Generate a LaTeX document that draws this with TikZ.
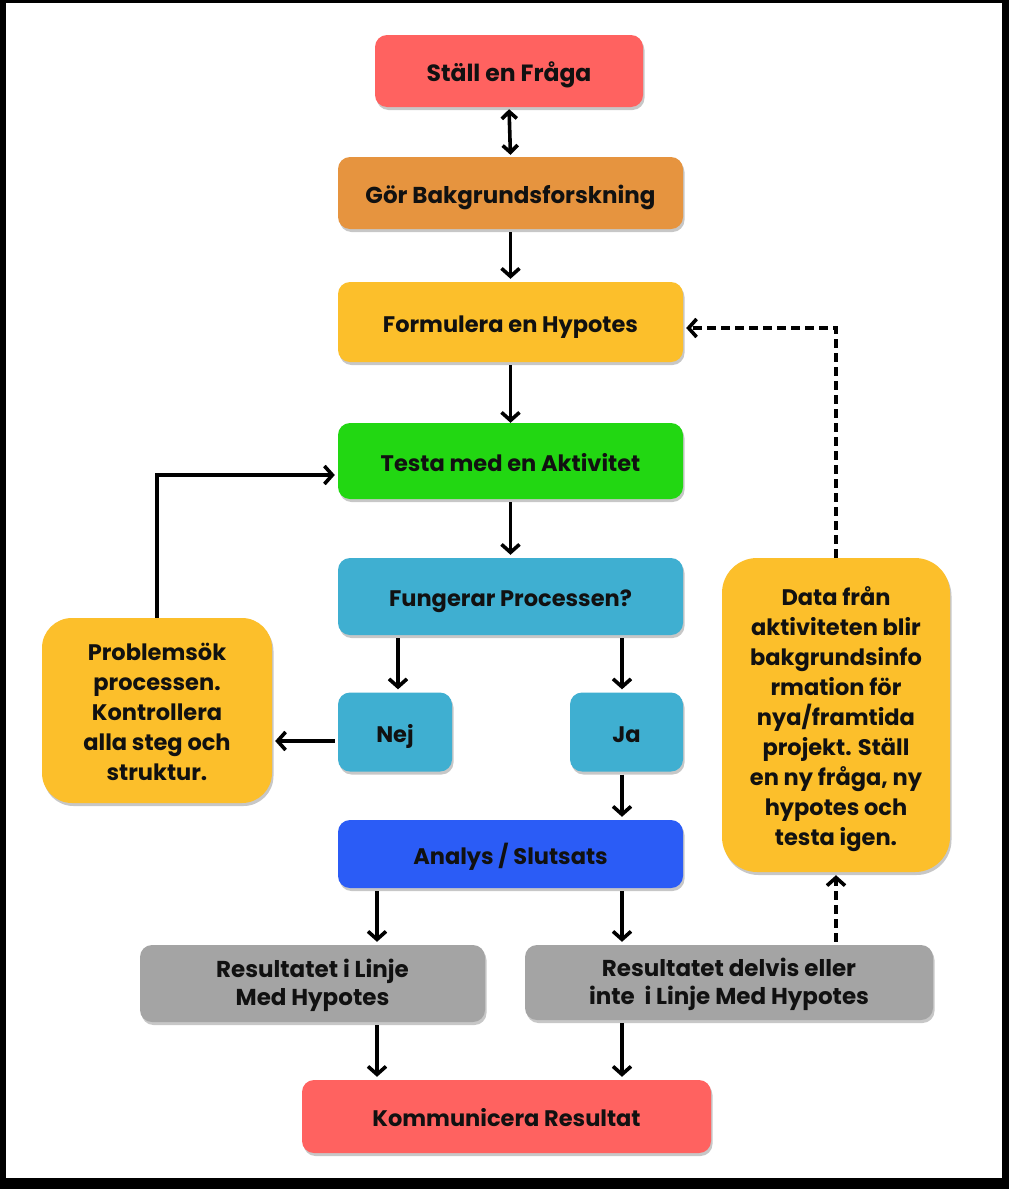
\documentclass[tikz,border=0pt]{standalone}
\usepackage{fontspec}
\setmainfont{Poppins}
\usetikzlibrary{arrows.meta,shadows}
\definecolor{cred}{HTML}{FF6260}
\definecolor{corange}{HTML}{E6943F}
\definecolor{cyellow}{HTML}{FCBF2B}
\definecolor{cgreen}{HTML}{22D712}
\definecolor{cteal}{HTML}{3FAFD1}
\definecolor{cblue}{HTML}{2B5CF6}
\definecolor{cgray}{HTML}{A4A4A4}
\definecolor{ctext}{HTML}{111111}
\newcommand{\mltext}[2]{\raisebox{-#1}[0pt][0pt]{\renewcommand{\arraystretch}{1}\begin{tabular}{@{}c@{}}#2\end{tabular}}}
\tikzset{
  bx/.style={rounded corners=12pt, align=center, text=ctext, inner sep=0pt,
    font=\bfseries\fontsize{22.5}{27}\selectfont, text height=20pt, text depth=0pt,
    drop shadow={shadow xshift=1.5pt, shadow yshift=-3pt, opacity=0.22, fill=black}},
  mlbx/.style={bx, text height=, text depth=},
  bigbx/.style={mlbx, rounded corners=30pt, font=\bfseries\fontsize{22.5}{30}\selectfont},
  arr/.style={line width=3.6pt, -{Straight Barb[length=8pt,width=18pt]}, shorten >=3pt, shorten <=3pt},
  darr/.style={arr, dash pattern=on 9pt off 5pt},
  dblarr/.style={line width=3.6pt, {Straight Barb[length=7pt,width=15pt]}-{Straight Barb[length=7pt,width=15pt]}, shorten >=2pt, shorten <=2pt},
}
\begin{document}
\begin{tikzpicture}[x=1pt,y=-1pt]
\useasboundingbox (0,0) rectangle (1009,1189);
\fill[black] (0,0) rectangle (1009,1189);
\fill[white] (6,3) rectangle (1002,1178);

\node[bx, fill=cred, minimum width=268pt, minimum height=72pt, font=\bfseries\fontsize{23.5}{28}\selectfont] (q) at (509,71) {Ställ en Fråga};
\node[bx, fill=corange, minimum width=345pt, minimum height=72pt, font=\bfseries\fontsize{23}{28}\selectfont] (b) at (510.5,193) {Gör Bakgrundsforskning};
\node[bx, fill=cyellow, minimum width=345pt, minimum height=80pt] (h) at (510.5,322) {Formulera en Hypotes};
\node[bx, fill=cgreen, minimum width=345pt, minimum height=76pt] (t) at (510.5,461) {Testa med en Aktivitet};
\node[bx, fill=cteal, minimum width=345pt, minimum height=77pt] (f) at (510.5,596.5) {Fungerar Processen?};
\node[bx, fill=cteal, minimum width=114pt, minimum height=79pt] (nej) at (395,732) {Nej};
\node[bx, fill=cteal, minimum width=113pt, minimum height=79pt] (ja) at (626.5,732) {Ja};
\node[bx, fill=cblue, minimum width=345pt, minimum height=68pt] (an) at (510.5,854) {Analys / Slutsats};
\node[mlbx, fill=cgray, minimum width=345pt, minimum height=77pt, font=\bfseries\fontsize{23}{28}\selectfont] (r1) at (312.5,983.5) {\mltext{8.6pt}{Resultatet i Linje\\Med Hypotes}};
\node[mlbx, fill=cgray, minimum width=408pt, minimum height=75pt, font=\bfseries\fontsize{23}{28}\selectfont] (r2) at (729,982.5) {\mltext{8.6pt}{Resultatet delvis eller\\inte\ \ i Linje Med Hypotes}};
\node[bx, fill=cred, minimum width=409pt, minimum height=73pt] (k) at (506.5,1116.5) {Kommunicera Resultat};
\node[bigbx, fill=cyellow, minimum width=230pt, minimum height=185pt] (p) at (157,710.5) {\mltext{9.1pt}{Problemsök\\processen.\\Kontrollera\\alla steg och\\struktur.}};
\node[bigbx, fill=cyellow, minimum width=228pt, minimum height=314pt, rounded corners=35pt] (d) at (836,715) {\mltext{9.6pt}{Data från\\aktiviteten blir\\bakgrundsinfo\\rmation för\\nya/framtida\\projekt. Ställ\\en ny fråga, ny\\hypotes och\\testa igen.}};

\coordinate (xa) at (377,0);
\coordinate (xb) at (622,0);
\coordinate (xn) at (398,0);

\draw[dblarr] (q.south) -- (b.north);
\draw[arr] (b.south) -- (h.north);
\draw[arr] (h.south) -- ([yshift=-3pt]t.north);
\draw[arr] (t.south) -- (f.north);
\draw[arr] (f.south -| xn) -- (nej.north -| xn);
\draw[arr] (f.south -| xb) -- (ja.north -| xb);
\draw[arr] ([yshift=-9pt]nej.west) -- ([yshift=-9pt]nej.west -| p.east);
\draw[line width=3.6pt, -{Straight Barb[length=8pt,width=18pt]}, shorten >=3pt] (p.north) |- ([yshift=-14pt]t.west);
\draw[arr] (ja.south -| xb) -- (an.north -| xb);
\draw[arr] (an.south -| xa) -- (r1.north -| xa);
\draw[arr] (an.south -| xb) -- (r2.north -| xb);
\draw[arr] (r1.south -| xa) -- (k.north -| xa);
\draw[arr] (r2.south -| xb) -- (k.north -| xb);
\draw[darr] (r2.north -| d.south) -- (d.south);
\draw[line width=3.6pt, dash pattern=on 9pt off 5pt, -{Straight Barb[length=8pt,width=18pt]}, shorten >=3pt] (d.north) |- ([yshift=-6pt]h.east);
\end{tikzpicture}
\end{document}
